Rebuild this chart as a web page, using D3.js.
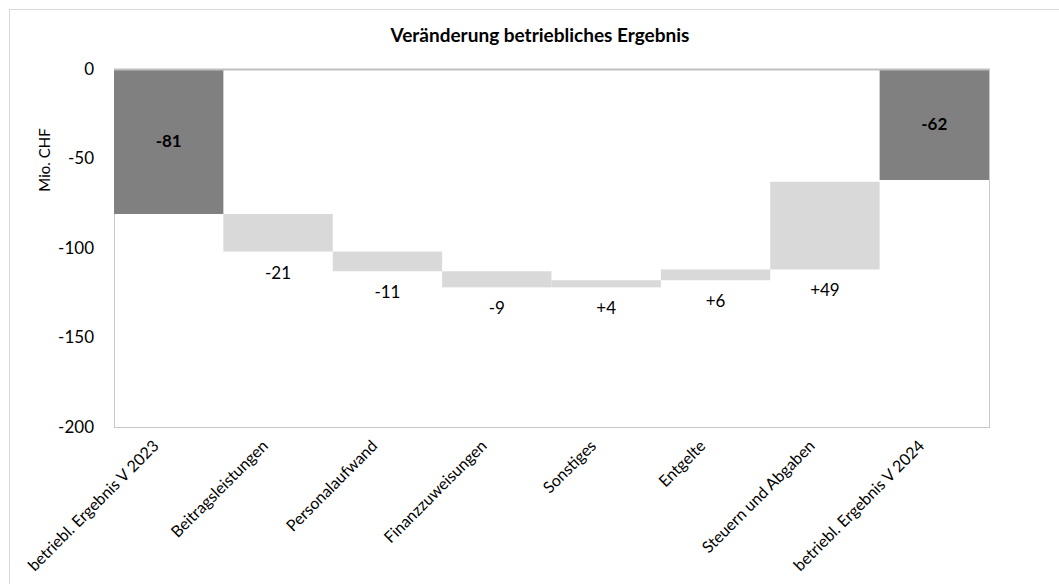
<!DOCTYPE html>
<html>
<head>
<meta charset="utf-8">
<script src="https://cdn.jsdelivr.net/npm/d3@7"></script>
<style>
  body { margin: 0; background: #fff; }
  text { font-family: Lato, "Liberation Sans", sans-serif; fill: #000; }
</style>
</head>
<body>
<svg width="1059" height="584"></svg>
<script>
// chart data
var categories = ["betriebl. Ergebnis V 2023", "Beitragsleistungen", "Personalaufwand",
                  "Finanzzuweisungen", "Sonstiges", "Entgelte", "Steuern und Abgaben",
                  "betriebl. Ergebnis V 2024"];
var values = [-81, -21, -11, -9, 4, 6, 49, -62];
var kinds = ["total", "delta", "delta", "delta", "delta", "delta", "delta", "total"];
var yTicks = [0, -50, -100, -150, -200];

var svg = d3.select("svg"),
    width = +svg.attr("width"),
    height = +svg.attr("height");

var plot = { left: 114, right: 989, top: 69, bottom: 427 };

// outer chart frame
svg.append("rect")
   .attr("x", 9.5).attr("y", 9.5)
   .attr("width", width + 10).attr("height", height + 10)
   .attr("fill", "none")
   .attr("stroke", "#d9d9d9");

var x = d3.scaleBand()
          .domain(categories)
          .range([plot.left, plot.right])
          .padding(0);

var y = d3.scaleLinear()
          .domain([-200, 0])
          .range([plot.bottom, plot.top]);

// build waterfall segments
var running = 0;
var bars = categories.map(function(c, i) {
    var v = values[i], y0, y1;
    if (kinds[i] == "total") {
        y0 = 0; y1 = v; running = v;
    } else {
        y0 = running; y1 = running + v; running = y1;
    }
    return { cat: c, value: v, kind: kinds[i], lo: Math.min(y0, y1), hi: Math.max(y0, y1) };
});

// plot area border
svg.append("rect")
   .attr("x", plot.left + 0.5).attr("y", plot.top + 0.5)
   .attr("width", plot.right - plot.left).attr("height", plot.bottom - plot.top)
   .attr("fill", "none")
   .attr("stroke", "#c8c8c8");

svg.append("g").selectAll("rect")
   .data(bars)
   .enter().append("rect")
   .attr("x", function(d) { return x(d.cat); })
   .attr("width", x.bandwidth())
   .attr("y", function(d) { return y(d.hi); })
   .attr("height", function(d) { return y(d.lo) - y(d.hi); })
   .attr("fill", function(d) { return d.kind == "total" ? "#808080" : "#d9d9d9"; });

// zero line on top
svg.append("line")
   .attr("x1", plot.left).attr("x2", plot.right + 1)
   .attr("y1", y(0) + 0.5).attr("y2", y(0) + 0.5)
   .attr("stroke", "#bfbfbf").attr("stroke-width", 2);

// y axis
var yAxis = svg.append("g")
   .attr("transform", "translate(" + (plot.left - 20) + ",0)")
   .call(d3.axisLeft(y).tickValues(yTicks).tickSize(0).tickPadding(0).tickFormat(String));
yAxis.select(".domain").remove();
yAxis.selectAll("text")
     .style("font-family", "Lato, sans-serif")
     .style("font-size", "17px")
     .attr("fill", "#000");

svg.append("text")
   .attr("transform", "translate(50,160) rotate(-90)")
   .attr("text-anchor", "middle")
   .style("font-size", "15px")
   .text("Mio. CHF");

// category labels
svg.append("g").selectAll("text")
   .data(categories)
   .enter().append("text")
   .attr("transform", function(d) {
        return "translate(" + (x(d) + x.bandwidth() / 2 - 9) + "," + (plot.bottom + 20) + ") rotate(-45)";
   })
   .attr("text-anchor", "end")
   .style("font-size", "16px")
   .text(function(d) { return d; });

// value labels
svg.append("g").selectAll("text")
   .data(bars)
   .enter().append("text")
   .attr("x", function(d) { return x(d.cat) + x.bandwidth() / 2; })
   .attr("y", function(d) {
        return d.kind == "total" ? (y(d.hi) + y(d.lo)) / 2 : y(d.lo) + 21;
   })
   .attr("dy", "0.35em")
   .attr("text-anchor", "middle")
   .style("font-size", "17px")
   .style("font-weight", function(d) { return d.kind == "total" ? "bold" : "normal"; })
   .text(function(d) {
        if (d.kind == "total") return d.value;
        return (d.value > 0 ? "+" : "") + d.value;
   });

svg.append("text")
   .attr("x", 540).attr("y", 42)
   .attr("text-anchor", "middle")
   .style("font-size", "19px")
   .style("font-weight", "bold")
   .text("Veränderung betriebliches Ergebnis");
</script>
</body>
</html>
